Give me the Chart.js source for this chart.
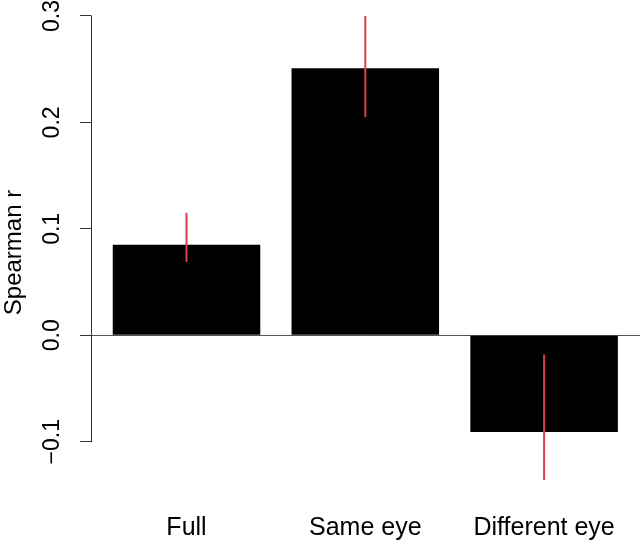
<!DOCTYPE html>
<html>
<head>
<meta charset="utf-8">
<script src="https://cdn.jsdelivr.net/npm/chart.js@4.4.1/dist/chart.umd.min.js"></script>
<style>
  html, body { margin: 0; padding: 0; background: #fff; }
  #wrap { width: 640px; height: 541px; }
</style>
</head>
<body>
<div id="wrap"><canvas id="chart1"></canvas></div>
<script>
// data
var categories = ['Full', 'Same eye', 'Different eye']
var barX = [0.7, 1.9, 3.1]
var spearman = [0.085, 0.251, -0.091]
var errLow = [0.069, 0.205, -0.136]
var errHigh = [0.115, 0.300, -0.018]
var yTicks = [-0.1, 0.0, 0.1, 0.2, 0.3]

var fontFam = "'Liberation Sans', Arial, sans-serif"

// error bars + left axis line (R style: only between first and last tick)
var extras = {
  id: 'extras',
  afterDatasetsDraw: function (chart) {
    var ctx = chart.ctx
    var xs = chart.scales.x
    var ys = chart.scales.y
    ctx.save()
    ctx.strokeStyle = '#d8414c'
    ctx.lineWidth = 2
    for (var i = 0; i < barX.length; i++) {
      var px = xs.getPixelForValue(barX[i])
      ctx.beginPath()
      ctx.moveTo(px, ys.getPixelForValue(errHigh[i]))
      ctx.lineTo(px, ys.getPixelForValue(errLow[i]))
      ctx.stroke()
    }
    var ax = chart.chartArea.left + 0.5
    ctx.strokeStyle = '#333'
    ctx.lineWidth = 1
    ctx.beginPath()
    ctx.moveTo(ax, ys.getPixelForValue(yTicks[0]) + 0.5)
    ctx.lineTo(ax, ys.getPixelForValue(yTicks[yTicks.length - 1]) - 0.5)
    ctx.stroke()
    ctx.restore()
  }
}

var data = {
  datasets: [{
    label: 'Spearman r',
    data: barX.map(function (x, i) { return { x: x, y: spearman[i] } }),
    backgroundColor: '#000',
    borderWidth: 0,
    barPercentage: 1,
    categoryPercentage: 0.825
  }]
}

var config = {
  type: 'bar',
  data: data,
  plugins: [extras],
  options: {
    responsive: true,
    maintainAspectRatio: false,
    animation: false,
    layout: { padding: 0 },
    plugins: {
      legend: { display: false },
      tooltip: { enabled: false }
    },
    scales: {
      x: {
        type: 'linear',
        offset: false,
        min: 0.059,
        max: 3.7436,
        afterBuildTicks: function (scale) {
          scale.ticks = barX.map(function (v) { return { value: v } })
        },
        afterFit: function (scale) {
          scale.height = 36
          scale.paddingLeft = 0
          scale.paddingRight = 0
        },
        grid: { display: false, drawTicks: false },
        border: { display: false },
        ticks: {
          color: '#000',
          font: { family: fontFam, size: 25 },
          padding: 8,
          maxRotation: 0,
          autoSkip: false,
          callback: function (v, i) { return categories[i] }
        }
      },
      y: {
        min: -0.15948,
        max: 0.31503,
        afterBuildTicks: function (scale) {
          scale.ticks = yTicks.map(function (v) { return { value: v } })
        },
        afterFit: function (scale) {
          scale.width = 91
          scale.paddingTop = 0
          scale.paddingBottom = 0
        },
        border: { display: false },
        grid: {
          drawOnChartArea: true,
          drawTicks: true,
          tickLength: 11,
          tickColor: '#333',
          color: function (c) { return c.tick && c.tick.value === 0 ? '#555' : 'rgba(0,0,0,0)' }
        },
        ticks: {
          color: '#000',
          font: { family: fontFam, size: 23 },
          minRotation: 90,
          maxRotation: 90,
          crossAlign: 'center',
          padding: 5,
          callback: function (v) { return Number(v).toFixed(1).replace('-', '\u2212') }
        },
        title: {
          display: true,
          text: 'Spearman r',
          color: '#000',
          font: { family: fontFam, size: 24 },
          padding: { top: 0, bottom: 0 }
        }
      }
    }
  }
}

var myChart = new Chart(document.getElementById('chart1'), config)
</script>
</body>
</html>
